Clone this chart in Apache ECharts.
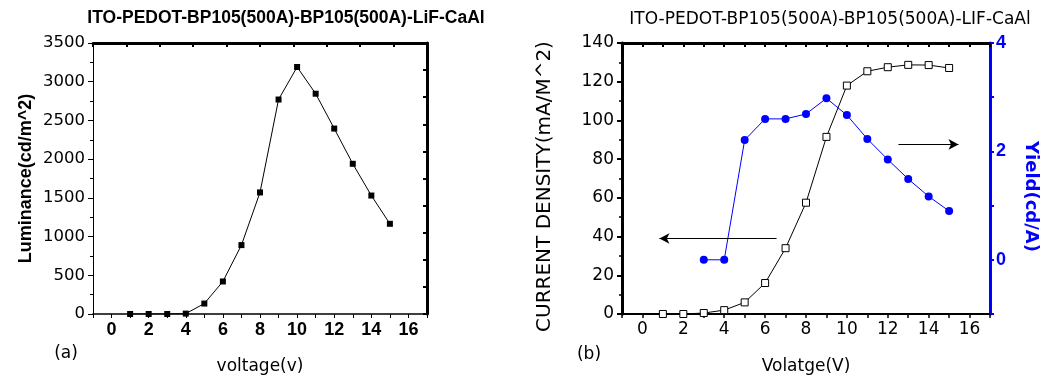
<!DOCTYPE html>
<html>
<head>
<meta charset="utf-8">
<script src="https://cdn.jsdelivr.net/npm/echarts@6/dist/echarts.min.js"></script>
<style>
html,body{margin:0;padding:0;background:#fff;}
#c{width:1040px;height:376px;}
</style>
</head>
<body>
<div id="c"></div>
<script>
// ---- data ----
const titleA = 'ITO-PEDOT-BP105(500A)-BP105(500A)-LiF-CaAl';
const titleB = 'ITO-PEDOT-BP105(500A)-BP105(500A)-LIF-CaAl';
const voltageA = [1,2,3,4,5,6,7,8,9,10,11,12,13,14,15];
const luminance = [0,0,0,5,135,420,890,1570,2770,3190,2845,2395,1940,1530,1165];
const voltageB = [1,2,3,4,5,6,7,8,9,10,11,12,13,14,15];
const currentDensity = [0,0,0.5,2,6,16,34,57.5,91.5,118,125.4,127.5,128.7,128.6,127.1];
const voltageYield = [3,4,5,6,7,8,9,10,11,12,13,14,15];
const yieldVals = [0,0,2.21,2.6,2.6,2.69,2.98,2.67,2.23,1.85,1.49,1.17,0.9];
const arrowLeft = [[6.56,39],[0.83,39]];
const arrowRight = [[12.52,87.6],[15.46,87.6]];
const xTicks = [-1,17,1];        // min, max, interval
const lumTicks = [0,3500,500];
const curTicks = [0,140,20];
const yldTicks = [-1,4,1];
const yldLabels = [0,2,4];

const FONT = 'DejaVu Sans';
const FONTB = 'Liberation Sans';
const BLUE = '#0000ff';

const zip = (a,b)=>a.map((v,i)=>[v,b[i]]);
const evenFmt = v => (v % 2 === 0 ? String(v) : '');
const plainFmt = v => String(v);

const chart = echarts.init(document.getElementById('c'), null, {renderer:'canvas'});
chart.setOption({
  animation:false,
  backgroundColor:'#fff',
  grid:[
    {left:93, right:613, top:43, bottom:62, containLabel:false, outerBoundsMode:'none'},
    {left:622, right:50, top:43, bottom:62, containLabel:false, outerBoundsMode:'none'}
  ],
  graphic:[
    {type:'text', x:286, y:18, style:{text:titleA, font:'bold 17.5px "Liberation Sans"', fill:'#000', align:'center', verticalAlign:'middle'}},
    {type:'text', x:830, y:20, style:{text:titleB, font:'17px "DejaVu Sans"', fill:'#000', align:'center', verticalAlign:'middle'}},
    {type:'text', x:66, y:354, style:{text:'(a)', font:'17px "DejaVu Sans"', fill:'#000', align:'center', verticalAlign:'middle'}},
    {type:'text', x:589, y:355, style:{text:'(b)', font:'17px "DejaVu Sans"', fill:'#000', align:'center', verticalAlign:'middle'}}
  ],
  xAxis:[
    {gridIndex:0, type:'value', position:'bottom', min:xTicks[0], max:xTicks[1], interval:xTicks[2],
     name:'voltage(v)', nameLocation:'middle', nameGap:44,
     nameTextStyle:{fontFamily:FONT, fontSize:17, color:'#000'},
     axisLine:{show:true, onZero:false, lineStyle:{color:'#000', width:1.5}},
     axisTick:{show:true, inside:false, length:4, lineStyle:{color:'#000', width:1}},
     axisLabel:{formatter:evenFmt, fontFamily:FONTB, fontWeight:'bold', fontSize:18, color:'#000', margin:7},
     splitLine:{show:false}},
    {gridIndex:0, type:'value', position:'top', min:0, max:10, interval:1,
     axisLine:{show:true, onZero:false, lineStyle:{color:'#000', width:3}},
     axisTick:{show:true, inside:true, length:4, lineStyle:{color:'#000', width:2}},
     axisLabel:{show:false}, splitLine:{show:false}},
    {gridIndex:1, type:'value', position:'bottom', min:xTicks[0], max:xTicks[1], interval:xTicks[2],
     name:'Volatge(V)', nameLocation:'middle', nameGap:44,
     nameTextStyle:{fontFamily:FONT, fontSize:17, color:'#000'},
     axisLine:{show:true, onZero:false, lineStyle:{color:'#000', width:2}},
     axisTick:{show:true, inside:false, length:4, lineStyle:{color:'#000', width:1.5}},
     axisLabel:{formatter:evenFmt, fontFamily:FONT, fontSize:17, color:'#000', margin:7},
     splitLine:{show:false}},
    {gridIndex:1, type:'value', position:'top', min:xTicks[0], max:xTicks[1], interval:xTicks[2],
     axisLine:{show:true, onZero:false, lineStyle:{color:'#000', width:3}},
     axisTick:{show:true, inside:true, length:4, lineStyle:{color:'#000', width:2}},
     axisLabel:{show:false}, splitLine:{show:false}}
  ],
  yAxis:[
    {gridIndex:0, type:'value', position:'left', min:lumTicks[0], max:lumTicks[1], interval:lumTicks[2],
     name:'Luminance(cd/m^2)', nameLocation:'middle', nameGap:58, nameRotate:90,
     nameTextStyle:{fontFamily:FONTB, fontWeight:'bold', fontSize:18, color:'#000'},
     axisLine:{show:true, onZero:false, lineStyle:{color:'#000', width:1}},
     axisTick:{show:true, inside:false, length:5, lineStyle:{color:'#000', width:1}},
     minorTick:{show:true, splitNumber:2, length:3, lineStyle:{color:'#000', width:1}},
     axisLabel:{formatter:plainFmt, fontFamily:FONT, fontSize:16.5, color:'#000', margin:8},
     splitLine:{show:false}},
    {gridIndex:0, type:'value', position:'right', min:0, max:10, interval:1,
     axisLine:{show:true, onZero:false, lineStyle:{color:'#000', width:3}},
     axisTick:{show:true, inside:true, length:4, lineStyle:{color:'#000', width:2}},
     axisLabel:{show:false}, splitLine:{show:false}},
    {gridIndex:1, type:'value', position:'left', min:curTicks[0], max:curTicks[1], interval:curTicks[2],
     name:'CURRENT DENSITY(mA/M^2)', nameLocation:'middle', nameGap:67, nameRotate:90,
     nameTextStyle:{fontFamily:FONT, fontSize:20, color:'#000', padding:[0,16,0,0]},
     axisLine:{show:true, onZero:false, lineStyle:{color:'#000', width:3}},
     axisTick:{show:true, inside:false, length:5, lineStyle:{color:'#000', width:2}},
     minorTick:{show:true, splitNumber:2, length:3, lineStyle:{color:'#000', width:1.5}},
     axisLabel:{formatter:plainFmt, fontFamily:FONT, fontSize:17, color:'#000', margin:8},
     splitLine:{show:false}},
    {gridIndex:1, type:'value', position:'right', min:yldTicks[0], max:yldTicks[1], interval:yldTicks[2],
     name:'Yield(cd/A)', nameLocation:'middle', nameGap:32, nameRotate:-90,
     nameTextStyle:{fontFamily:FONT, fontWeight:'bold', fontSize:18, color:BLUE, padding:[0,0,0,36]},
     axisLine:{show:true, onZero:false, lineStyle:{color:BLUE, width:3}},
     axisTick:{show:true, inside:false, length:4, lineStyle:{color:BLUE, width:2}},
     axisLabel:{formatter:v => (yldLabels.indexOf(v) >= 0 ? String(v) : ''), fontFamily:FONTB, fontWeight:'bold', fontSize:18, color:BLUE, margin:6},
     splitLine:{show:false}}
  ],
  series:[
    {type:'line', xAxisIndex:0, yAxisIndex:0, data:zip(voltageA, luminance),
     symbol:'rect', symbolSize:6, itemStyle:{color:'#000'}, lineStyle:{color:'#000', width:1}},
    {type:'line', xAxisIndex:2, yAxisIndex:3, data:zip(voltageYield, yieldVals),
     symbol:'circle', symbolSize:8, itemStyle:{color:BLUE}, lineStyle:{color:BLUE, width:1}},
    {type:'line', xAxisIndex:2, yAxisIndex:2, data:zip(voltageB, currentDensity),
     symbol:'rect', symbolSize:7, itemStyle:{color:'#fff', borderColor:'#000', borderWidth:1},
     lineStyle:{color:'#000', width:1},
     markLine:{silent:true, symbol:['none','arrow'], symbolSize:[8,10],
       lineStyle:{color:'#000', width:1, type:'solid'}, label:{show:false},
       data:[
         [{coord:arrowLeft[0]},{coord:arrowLeft[1]}],
         [{coord:arrowRight[0]},{coord:arrowRight[1]}]
       ]}}
  ]
});
</script>
</body>
</html>
